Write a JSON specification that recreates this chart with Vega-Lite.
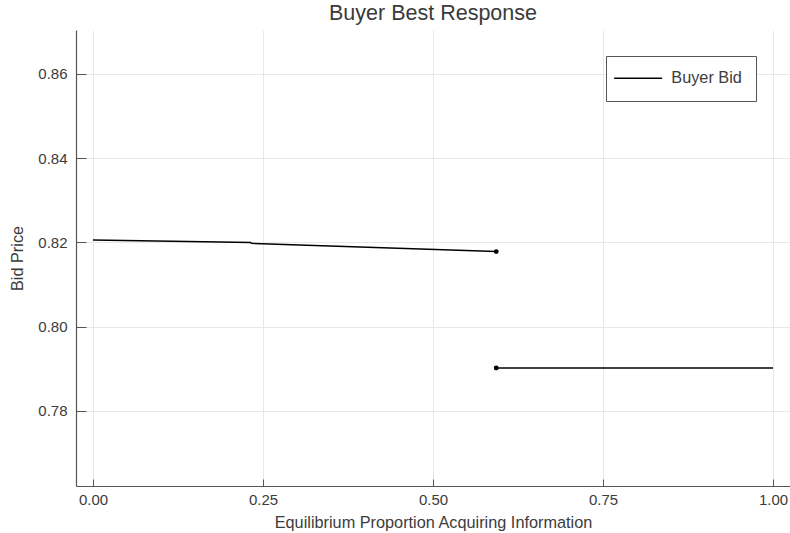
{
  "$schema": "https://vega.github.io/schema/vega-lite/v6.json",
  "width": 714,
  "height": 456,
  "autosize": "none",
  "padding": {"left": 76, "top": 30, "right": 0, "bottom": 47},
  "background": "white",
  "title": {
    "text": "Buyer Best Response",
    "fontSize": 21.5,
    "fontWeight": "normal",
    "font": "Liberation Sans",
    "color": "#3a3a3a",
    "anchor": "middle",
    "offset": 6
  },
  "config": {
    "font": "Liberation Sans",
    "view": {"stroke": null},
    "axis": {
      "labelFont": "Liberation Sans",
      "titleFont": "Liberation Sans",
      "labelFontSize": 15,
      "titleFontSize": 16.3,
      "titleFontWeight": "normal",
      "labelColor": "#3c3c3c",
      "titleColor": "#3c3c3c",
      "domainColor": "#555555",
      "domainWidth": 1.2,
      "tickColor": "#555555",
      "gridColor": "#e8e8e8",
      "gridWidth": 1
    }
  },
  "datasets": {
    "bid": [
      {"x": 0.0, "y": 0.8206, "series": "Buyer Bid", "segment": "a"},
      {"x": 0.232, "y": 0.8200, "series": "Buyer Bid", "segment": "a"},
      {"x": 0.233, "y": 0.81977, "series": "Buyer Bid", "segment": "a"},
      {"x": 0.593, "y": 0.81782, "series": "Buyer Bid", "segment": "a"},
      {"x": 0.593, "y": 0.7902, "series": "Buyer Bid", "segment": "b"},
      {"x": 1.0, "y": 0.7902, "series": "Buyer Bid", "segment": "b"}
    ],
    "jumps": [
      {"x": 0.593, "y": 0.81782},
      {"x": 0.593, "y": 0.7902}
    ]
  },
  "layer": [
    {
      "data": {"name": "bid"},
      "mark": {"type": "line", "strokeWidth": 1.5, "clip": true},
      "encoding": {
        "x": {
          "field": "x",
          "type": "quantitative",
          "scale": {"domain": [-0.025, 1.025], "nice": false, "zero": false},
          "axis": {
            "title": "Equilibrium Proportion Acquiring Information",
            "values": [0, 0.25, 0.5, 0.75, 1],
            "format": ".2f",
            "tickSize": -7,
            "labelPadding": 13,
            "titlePadding": 7
          }
        },
        "y": {
          "field": "y",
          "type": "quantitative",
          "scale": {"domain": [0.7622, 0.8704], "nice": false, "zero": false},
          "axis": {
            "title": "Bid Price",
            "values": [0.78, 0.8, 0.82, 0.84, 0.86],
            "format": ".2f",
            "tickSize": -10,
            "labelPadding": 19,
            "titlePadding": 12
          }
        },
        "detail": {"field": "segment"},
        "color": {
          "field": "series",
          "type": "nominal",
          "scale": {"range": ["#000000"]},
          "legend": {
            "title": null,
            "orient": "none",
            "legendX": 530,
            "legendY": 26,
            "symbolType": "M-4,0H4",
            "symbolSize": 144,
            "symbolStrokeWidth": 1.5,
            "symbolOffset": 10,
            "labelFontSize": 16.3,
            "labelColor": "#3c3c3c",
            "labelFont": "Liberation Sans",
            "labelOffset": 25,
            "labelExpr": "datum.label + '\u00a0\u00a0'",
            "padding": 14,
            "fillColor": "white",
            "strokeColor": "#555555"
          }
        }
      }
    },
    {
      "data": {"name": "jumps"},
      "mark": {"type": "circle", "size": 24, "color": "#000000", "opacity": 1},
      "encoding": {
        "x": {"field": "x", "type": "quantitative"},
        "y": {"field": "y", "type": "quantitative"}
      }
    }
  ]
}
